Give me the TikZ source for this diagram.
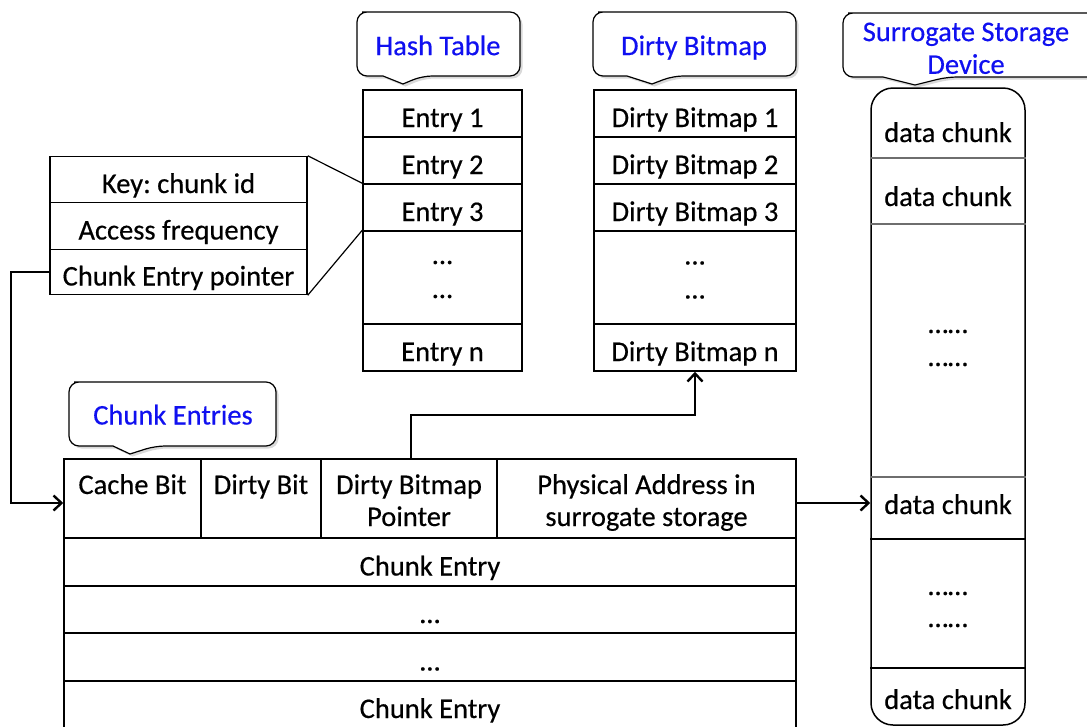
\documentclass[tikz,border=0pt]{standalone}
\usepackage{fontspec}
\setmainfont{Carlito}[FakeBold=0.4]
\frenchspacing
\usetikzlibrary{arrows.meta}
\definecolor{lblblue}{RGB}{16,16,240}
\definecolor{sepgray}{RGB}{110,110,110}
\newcommand\fs{\fontsize{28.5}{33}\selectfont}
\newcommand\calloutshape[8]{%
  \begin{scope}[shift={(2.5,2.5)}]
    \fill[black,opacity=0.15] (#1+15,#2) [rounded corners=10pt] -- (#3,#2) -- (#3,#4) -- (#7,#4) [sharp corners] -- (#6,#8) -- (#5,#4) [rounded corners=10pt] -- (#1,#4) -- (#1,#2) -- cycle;
  \end{scope}
  \draw[line width=1.2pt,fill=white] (#1+15,#2) [rounded corners=10pt] -- (#3,#2) -- (#3,#4) -- (#7,#4) [sharp corners] -- (#6,#8) -- (#5,#4) [rounded corners=10pt] -- (#1,#4) -- (#1,#2) -- cycle;
}
\tikzset{
  cell/.style={draw, line width=1.5pt, inner sep=0pt, font=\fs, text height=29pt, text depth=2pt},
  ht/.style={cell, minimum width=159pt, minimum height=47pt},
  db/.style={cell, minimum width=202pt, minimum height=47pt},
  kb/.style={cell, minimum width=257pt, minimum height=46pt},
  hc/.style={cell, minimum height=79pt},
  ce/.style={cell, minimum width=732pt, minimum height=47pt},
  txt/.style={inner sep=0pt, font=\fs, text height=29pt, text depth=2pt},
  lbl/.style={txt, text=lblblue},
  sep/.style={line width=1.1pt, sepgray},
  sepb/.style={line width=1.3pt, black},
  link/.style={line width=1.2pt},
  arr/.style={line width=1.6pt, -{Straight Barb[length=8pt,width=15pt,line width=2.4pt]}}
}
\begin{document}
\begin{tikzpicture}[x=1pt,y=-1pt]
\useasboundingbox (0,0) rectangle (1087,726);

% callouts
\calloutshape{357}{12}{520}{76}{383}{403}{422}{84}
\node[lbl] (lht) at (438,41.6) {Hash Table};
\calloutshape{593}{12}{796}{76}{627}{652}{673}{84}
\node[lbl] (ldb) at (694,41.6) {Dirty Bitmap};
\calloutshape{843}{13}{1098}{77}{883}{915}{947}{85}
\node[lbl] (lss) at (966,27.6) {Surrogate Storage};
\node[lbl] (lss2) at (966,60.3) {Device};
\calloutshape{69}{382}{276}{446}{113}{130}{155}{454}
\node[lbl] (lce) at (173,411) {Chunk Entries};

% hash table
\node[ht] (h1) at (442.5,113.5) {Entry 1};
\node[ht] (h2) at (442.5,160.5) {Entry 2};
\node[ht] (h3) at (442.5,207.5) {Entry 3};
\node[ht, minimum height=93pt] (hd) at (442.5,277.5) {};
\node[txt] (hd1) at (442.5,250.5) {...};
\node[txt] (hd2) at (442.5,284.5) {\ldots};
\node[ht] (hn) at (442.5,347.5) {Entry n};

% dirty bitmap
\node[db] (d1) at (695,113.5) {Dirty Bitmap 1};
\node[db] (d2) at (695,160.5) {Dirty Bitmap 2};
\node[db] (d3) at (695,207.5) {Dirty Bitmap 3};
\node[db, minimum height=93pt] (dd) at (695,277.5) {};
\node[txt] (dd1) at (695,251) {...};
\node[txt] (dd2) at (695,285) {\ldots};
\node[db] (dn) at (695,347.5) {Dirty Bitmap n};

% key box
\node[kb, minimum height=46pt] (k1) at (178.5,179.5) {Key: chunk id};
\node[kb, minimum height=47pt] (k2) at (178.5,226) {Access frequency};
\node[kb, minimum height=45pt] (k3) at (178.5,272) {Chunk Entry pointer};
\draw[link] (k1.north east) -- (h3.north west);
\draw[link] (k3.south east) -- (hd.north west);

% chunk entries
\node[hc, minimum width=137pt] (c1) at (132.5,498.5) {};
\node[hc, minimum width=120pt] (c2) at (261,498.5) {};
\node[hc, minimum width=176pt] (c3) at (409,498.5) {};
\node[hc, minimum width=299pt] (c4) at (646.5,498.5) {};
\node[txt] (t1) at (c1 |- 0,480.5) {Cache Bit};
\node[txt] (t2) at (c2 |- 0,480.5) {Dirty Bit};
\node[txt] (t3a) at (c3 |- 0,480.5) {Dirty Bitmap};
\node[txt] (t3b) at (c3 |- 0,512.5) {Pointer};
\node[txt] (t4a) at (c4 |- 0,480.5) {Physical Address in};
\node[txt] (t4b) at (c4 |- 0,512.5) {surrogate storage};
\node[ce, minimum height=48pt] (r1) at (430,562) {Chunk Entry};
\node[ce] (r2) at (430,609.5) {\ldots};
\node[ce, minimum height=48pt] (r3) at (430,657) {\ldots};
\node[ce] (r4) at (430,704.5) {Chunk Entry};

% storage
\node[draw, line width=1.5pt, rounded corners=22pt, minimum width=154pt, minimum height=637pt, inner sep=0pt] (stor) at (948,406.5) {};
\draw[sep] (stor.west |- 0,158) -- (stor.east |- 0,158);
\draw[sep] (stor.west |- 0,224) -- (stor.east |- 0,224);
\draw[sep] (stor.west |- 0,477) -- (stor.east |- 0,477);
\draw[sepb] (stor.west |- 0,539) -- (stor.east |- 0,539);
\draw[sepb] (stor.west |- 0,668) -- (stor.east |- 0,668);
\node[txt] (s1) at (948,128.5) {data chunk};
\node[txt] (s2) at (948,192.5) {data chunk};
\node[txt] (s3a) at (948,319.5) {\ldots\ldots};
\node[txt] (s3b) at (948,352.5) {\ldots\ldots};
\node[txt] (s4) at (948,500.5) {data chunk};
\node[txt] (s5a) at (948,581.5) {\ldots\ldots};
\node[txt] (s5b) at (948,613.5) {\ldots\ldots};
\node[txt] (s6) at (948,695.5) {data chunk};

% connectors
\draw[arr] (k3.west) -- ++(-38,0) |- ([yshift=-4.5pt]c1.west);
\draw[arr] ([xshift=2pt]c3.north) -- ++(0,-43) -| (dn.south);
\coordinate (pa) at ([yshift=-4.5pt]c4.east);
\draw[arr] (pa) -- (pa -| stor.west);
\end{tikzpicture}
\end{document}
